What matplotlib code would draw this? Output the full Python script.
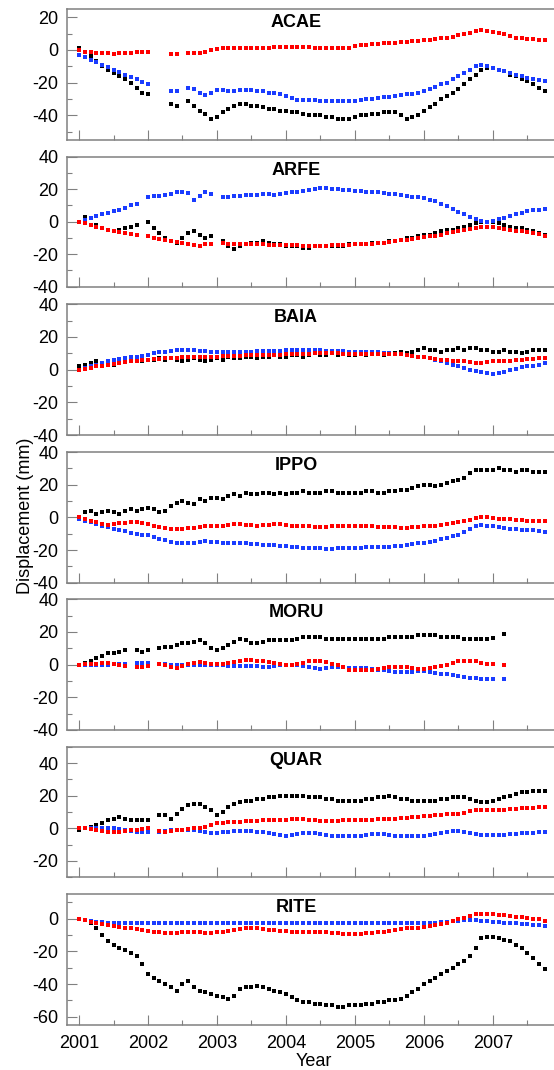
import numpy as np
import matplotlib
matplotlib.use("Agg")
import matplotlib.pyplot as plt
from matplotlib.ticker import MultipleLocator

plt.rcParams['font.family'] = ['Liberation Sans', 'DejaVu Sans']

nan = np.nan

# monthly readings, 2001.00 ... 2007.75 (82 samples), mm
months = 2001 + np.arange(82) / 12.0

stations = ["ACAE", "ARFE", "BAIA", "IPPO", "MORU", "QUAR", "RITE"]

acae_black = [1, -1, -4, -7, -10, -12, -14, -16, -18, -20, -23, -26,
              -27, nan, nan, nan, -33, -34, nan, -31, -34, -37, -39, -42,
              -41, -38, -36, -34, -33, -33, -34, -34, -35, -36, -36, -37,
              -37, -38, -38, -39, -39.5, -40, -40, -41, -41, -42, -42, -42,
              -41, -40, -40, -39, -39, -38, -38, -38, -40, -42, -41, -40,
              -37, -35, -33, -30, -28, -26, -24, -21, -18, -15, -12, -11,
              -11, -12, -13, -15, -16, -18, -19, -21, -23, -25]
acae_blue = [-3, -4.5, -6, -7.5, -9, -10.5, -12, -13.5, -15, -16.5, -18, -19.5,
             -20.5, nan, nan, nan, -25, -25, nan, -23, -24, -26, -27.5, -26,
             -24.5, -24.5, -25, -25, -24.5, -24.5, -24.5, -25, -25, -26, -26.5, -27,
             -28, -29.5, -30.5, -30.5, -30.5, -30.5, -31, -31, -31, -31, -31, -31.2,
             -31, -30.5, -30, -30, -29.5, -29, -28.5, -28, -27.5, -27, -27, -26,
             -25, -24, -22.5, -21, -20, -18, -16, -14, -12, -10, -9.5, -10,
             -11, -12, -13, -14, -15, -16, -17, -18, -18.5, -19]
acae_red = [0, -1, -1.5, -2, -2, -2, -2.5, -2, -2, -2, -1.5, -1.5,
            -1.5, nan, nan, nan, -2.7, -2.7, nan, -2, -2, -2, -1, 0,
            0.5, 1, 1, 1, 1, 1, 1, 1.2, 1.2, 1.2, 1.5, 1.5,
            1.8, 2, 1.8, 1.6, 1.5, 1.4, 1.4, 1.3, 1.2, 1.1, 1, 1,
            2.5, 3, 3.3, 3.5, 3.7, 4, 4.3, 4.5, 4.8, 5, 5.2, 5.5,
            5.8, 6.2, 6.8, 7.2, 7.5, 8, 9, 9.5, 10.5, 11.5, 12, 11.5,
            11, 10.5, 9.5, 8.5, 7.5, 7, 6.5, 6.5, 6.2, 6]

arfe_black = [0, 3, 2, -2, -4, -5, -6, -5, -4, -3, -2, nan,
              0, -4, -7, -10, -12, -13, -10, -7, -6, -8, -10, -9,
              nan, -12, -15, -17, -15, -14, -13, -13, -12, -13, -14, -14,
              -15, -15, -15, -16, -16, -15, -15, -15, -15, -15, -15, -14,
              -14, -14, -14, -13, -13, -13, -12, -12, -11, -10, -10, -9,
              -8, -8, -7, -6, -5, -5, -4, -3, -2, -1, 0, 0,
              0, -1, -2, -3, -4, -4, -5, -6, -7, -8]
arfe_blue = [0, 1, 2, 3.5, 4.5, 5.5, 6.5, 7.5, 8.5, 10, 11, nan,
             15.5, 16, 16, 16.5, 17, 18, 18.5, 17.5, 13.5, 16, 18, 17,
             nan, 15, 15.5, 16, 16, 16.5, 16.5, 16.5, 17, 17, 16.5, 17,
             17.5, 18, 18.5, 19, 19.5, 20, 20.5, 20.5, 20, 20, 19.5, 19.5,
             19, 19, 18.5, 18.5, 18, 17.5, 17, 17, 16.5, 16, 15.5, 15,
             14.5, 13.5, 12.5, 11, 9.5, 8, 6, 4.5, 3, 1.5, 0.5, 0,
             0.5, 1.5, 2.5, 3.5, 4.5, 5.5, 6.5, 7, 7.5, 8]
arfe_red = [0, -1, -2, -3, -4, -5, -5.5, -6.5, -7, -7.5, -8, nan,
            -9, -10, -10.5, -11, -12, -12.5, -13, -14, -14.5, -15, -14, -13.5,
            nan, -13, -13.5, -13.5, -14, -13.5, -14, -14, -14, -14.5, -14.5, -14.5,
            -14.5, -14.5, -14.5, -15, -15, -15, -15, -15, -14.5, -14.5, -14.5, -14.5,
            -14, -14, -14, -13.5, -13, -13, -12.5, -12, -11.5, -11, -10.5, -10,
            -9.5, -9, -8.5, -8, -7, -6.5, -6, -5, -4.5, -4, -3.5, -3,
            -3.5, -4, -4.5, -5, -5.5, -6, -6.5, -7, -7.5, -8.5]

baia_black = [2, 3, 4, 5, 4, 3, 3, 4, 5, 5, 6, 5,
              6, 6, 7, 6, 7, 6, 5, 6, 7, 6, 5, 6,
              7, 6, 8, 7, 7, 8, 8, 7, 8, 8, 9, 8,
              8, 9, 9, 8, 9, 10, 9, 9, 10, 9, 10, 9,
              9, 10, 9, 10, 10, 9, 10, 10, 11, 10, 11, 12,
              13, 12, 12, 11, 12, 12, 13, 12, 13, 13, 12, 12,
              11, 11, 12, 11, 11, 10, 11, 12, 12, 12]
baia_blue = [0, 1, 2, 3, 4, 5, 6, 6.5, 7, 7.5, 8, 8.5,
             9, 10, 10.5, 11, 11.5, 12, 12, 12, 12, 11.5, 11.5, 11,
             11, 11, 11, 11, 11, 11, 11, 11.5, 11.5, 11.5, 11.5, 11.5,
             12, 12, 12, 12, 12, 12, 12, 11.5, 11.5, 11.5, 11.5, 11,
             11, 11, 11, 10.5, 10.5, 10, 10, 9.5, 9.5, 9, 8.5, 8,
             7.5, 7, 6, 5, 4, 3, 2, 1, 0, -1, -1.5, -2,
             -2.5, -2, -1.5, -0.5, 0.5, 1.5, 2, 2.5, 3, 4]
baia_red = [0, 0.5, 1, 2, 2.5, 3, 3.5, 4, 4.5, 5, 5.5, 6,
            6, 6.5, 6.5, 7, 7, 7, 7.5, 7.5, 7.5, 8, 8, 8,
            8, 8.5, 8.5, 8.5, 8.5, 9, 9, 9, 9, 9, 9, 9,
            9.5, 9.5, 9.5, 9.5, 9.5, 10, 10, 10, 10, 10, 9.5, 9.5,
            9.5, 9.5, 9.5, 9.5, 9.5, 9.5, 9.5, 9.5, 9.5, 9, 8.5, 8,
            7.5, 7, 6.5, 6, 6, 5.5, 5, 5, 4.5, 4, 4, 4.5,
            5, 5, 5, 5.5, 6, 6, 6.5, 6.5, 7, 7]

ippo_black = [0, 3, 4, 2, 3, 4, 3, 2, 4, 5, 4, 5,
              6, 5, 3, 4, 7, 9, 10, 9, 8, 11, 10, 12,
              12, 11, 13, 14, 13, 15, 14, 14, 15, 15, 14, 15,
              14, 15, 15, 16, 15, 15, 15, 16, 16, 15, 15, 15,
              15, 15, 16, 16, 15, 15, 16, 16, 17, 17, 18, 19,
              20, 20, 19, 20, 21, 22, 23, 24, 27, 29, 29, 29,
              29, 30, 29, 29, 28, 29, 29, 28, 28, 28]
ippo_blue = [-1, -2, -3, -4, -5, -6, -7, -7.5, -8.5, -9.5, -10, -10.5,
             -11, -12, -13, -14, -15, -15.5, -15.5, -15.5, -15.5, -15, -14.5, -15,
             -15, -15.5, -16, -16, -16, -16, -16.5, -16.5, -17, -17, -17, -17.5,
             -17.5, -18, -18, -18.5, -18.5, -19, -19, -19.5, -19.5, -19, -19, -18.5,
             -18.5, -18.5, -18, -18, -18, -18, -18, -17.5, -17.5, -17, -16.5, -16,
             -15.5, -15, -14.5, -13.5, -12.5, -11.5, -10.5, -9, -7, -5, -4.5, -5,
             -5.5, -6, -6.5, -7, -7, -7.5, -8, -8, -8.5, -9]
ippo_red = [0, -1, -2, -3, -4, -4.5, -4, -3.5, -3.5, -3, -3, -3.5,
            -4, -5, -6, -6.5, -7, -7, -7, -6.5, -6.5, -6, -5.5, -5,
            -5, -5, -4.5, -4, -4, -4.5, -4.5, -5, -4.5, -4.5, -4, -4,
            -4.5, -5, -5, -5.5, -5.5, -6, -6, -6, -5.5, -5.5, -5, -5,
            -5, -5, -5.5, -5.5, -6, -6, -6, -6, -6.5, -6.5, -6, -6,
            -5.5, -5, -5, -4.5, -4, -3.5, -3, -2.5, -1.5, -0.5, 0, 0,
            -0.5, -1, -1, -1, -1.5, -1.5, -2, -2, -2, -2]

moru_black = [0, 1, 2.5, 4, 5.5, 7, 7, 8, 9, nan, 9, 8,
              9, nan, 10, 11, 11, 12, 13, 13, 14, 15, 13, 10,
              9, 10, 12, 14, 16, 15, 13, 13, 14, 15, 15, 15,
              15, 15, 16, 17, 17, 17, 17, 16, 16, 16, 16, 16,
              16, 16, 16, 16, 16, 16, 17, 17, 17, 17, 17, 18,
              18, 18, 18, 17, 17, 17, 17, 16, 16, 16, 16, 16,
              16.5, nan, 18.5, nan, nan, nan, nan, nan, nan, nan]
moru_blue = [0, 0, 0, 0, 0, 0, 0.5, 0.5, 0.5, nan, 1, 1,
             1, nan, 0.5, 0.5, 0, 0, 0, 0, 0, 0, -0.5, -0.5,
             -0.5, -0.5, -1, -1, -1, -1, -1, -1, -1.5, -1.5, -1, -0.5,
             -0.5, -0.5, -0.5, -1, -1.5, -2, -2.5, -2, -1.5, -1.5, -1.5, -2,
             -2, -2, -2, -2.5, -3, -3.5, -4, -4.5, -4.5, -4.5, -4.5, -4,
             -4, -4.5, -5, -5.5, -6, -6.5, -7, -7.5, -8, -8, -8.5, -8.5,
             -8.5, nan, -9, nan, nan, nan, nan, nan, nan, nan]
moru_red = [0, 0.5, 0.5, 0.5, 1, 1, 0.5, 0, -1, nan, -1.5, -1.5,
            -1, nan, 0.5, 0, -1.5, -2, -1, 0.5, 1, 1.5, 1, 0.5,
            0.5, 0.5, 1, 1.5, 2, 3, 3, 2.5, 2, 1.5, 1, 0.5,
            0, 0, 0.5, 1, 2, 2.5, 2, 1.5, 0.5, 0, -1.5, -3,
            -3.5, -3.5, -3.5, -3, -2.5, -2, -1.5, -1.5, -1.5, -1.5, -2, -2.5,
            -2.5, -2, -1.5, -1, 0, 1, 2, 2.5, 2.5, 2, 1, 0.5,
            0.5, nan, 0, nan, nan, nan, nan, nan, nan, nan]

quar_black = [-1, 0, 1, 2, 3, 5, 6, 7, 6, 5, 5, 5,
              5, nan, 8, 8, 6, 9, 12, 14, 15, 15, 13, 11,
              8, 10, 13, 15, 16, 17, 17, 18, 18, 19, 19, 20,
              20, 20, 20, 20, 19, 19, 19, 18, 18, 17, 17, 17,
              17, 17, 18, 18, 19, 19, 20, 19, 18, 18, 17, 17,
              17, 17, 17, 18, 18, 19, 19, 19, 18, 17, 16, 16,
              17, 18, 19, 20, 21, 22, 22, 23, 23, 23]
quar_blue = [0, 0, 0.5, 0.5, 0, 0, 0, -0.5, -1, -1.5, -2, -2,
             -2, nan, -2, -1.5, -1, -1, -1, -1, -1, -1.5, -2.5, -3,
             -3, -2.5, -2, -1.5, -1.5, -1.5, -1.5, -2, -2.5, -3, -3.5, -4,
             -4.5, -4, -3.5, -3, -3, -3, -3.5, -4, -4.5, -5, -5, -5,
             -5, -4.5, -4, -3.5, -3.5, -3.5, -4, -4.5, -5, -5, -5, -5,
             -4.5, -4, -3.5, -3, -2, -1.5, -1.5, -2, -3, -3.5, -4, -4,
             -4, -4, -4, -3.5, -3.5, -3, -3, -3, -2.5, -2.5]
quar_red = [0, 0, -0.5, -1, -1.5, -2, -2, -2, -1.5, -1, -1, -0.5,
            0, nan, -1.5, -2, -1.5, -1, -1, -0.5, 0, 0.5, 1, 2,
            3, 3.5, 4, 4, 4, 4.5, 4.5, 4.5, 5, 5, 5, 5,
            5, 5.5, 5.5, 5.5, 5, 5, 4.5, 4.5, 4.5, 4.5, 5, 5,
            5, 5, 5, 5, 5.5, 5.5, 6, 6, 6.5, 6.5, 7, 7,
            7.5, 7.5, 8, 8, 8.5, 8.5, 9, 9.5, 10.5, 11.5, 11.5, 11.5,
            11.5, 11.5, 11.5, 12, 12, 12.5, 12.5, 12.5, 13, 13]

rite_black = [0, -1, -3, -6, -10, -14, -16, -18, -19, -21, -23, -28,
              -34, -36, -38, -40, -42, -44, -40, -38, -42, -44, -45, -46,
              -47, -48, -49, -47, -43, -42, -42, -41, -42, -43, -44, -45,
              -46, -48, -50, -51, -51, -52, -52, -53, -53, -54, -54, -53,
              -53, -53, -52, -52, -51, -51, -50, -50, -49, -47, -45, -43,
              -40, -38, -36, -34, -32, -30, -28, -26, -23, -18, -12, -11,
              -11, -12, -13, -14, -16, -18, -21, -24, -28, -31]
rite_blue = [0, -1, -1.5, -2, -2, -2.5, -2.5, -2.5, -2.5, -3, -3, -3,
             -3, -3, -3, -3, -3, -3, -3, -3, -2.5, -2.5, -2.5, -2.5,
             -2.5, -2.5, -2.5, -2.5, -2.5, -2.5, -2.5, -2.5, -2.5, -2.5, -3, -3,
             -3, -3, -3, -3, -3, -3, -3, -3, -3, -3, -3, -3,
             -3, -3, -3, -3, -3, -3, -3, -3, -3, -3, -3, -2.5,
             -2.5, -2.5, -2.5, -2, -2, -1.5, -1.5, -1, -1, -1, -1.5, -1.5,
             -2, -2, -2.5, -3, -3, -3.5, -3.5, -4, -4, -4.5]
rite_red = [0, -1, -2, -3, -3.5, -4, -4.5, -5, -5.5, -6, -6.5, -7,
            -7.5, -8, -8.5, -9, -9, -9, -8.5, -8.5, -8.5, -8.5, -9, -9,
            -8.5, -8, -7.5, -7, -6.5, -6, -6, -6, -6.5, -7, -7, -7.5,
            -7.5, -8, -8, -8, -8, -8, -8.5, -8.5, -9, -9, -9.5, -9.5,
            -9.5, -9.5, -9, -9, -8.5, -8, -7.5, -7, -6.5, -6, -6, -5.5,
            -5, -4.5, -4, -3.5, -2.5, -1.5, -0.5, 0.5, 1.5, 2.5, 3, 3,
            2.5, 2, 2, 1.5, 1, 1, 0.5, 0, -0.5, -1.5]

blacks = [acae_black, arfe_black, baia_black, ippo_black, moru_black, quar_black, rite_black]
blues = [acae_blue, arfe_blue, baia_blue, ippo_blue, moru_blue, quar_blue, rite_blue]
reds = [acae_red, arfe_red, baia_red, ippo_red, moru_red, quar_red, rite_red]

ylims = [(-55, 25), (-40, 40), (-40, 40), (-40, 40), (-40, 40), (-30, 50), (-65, 15)]

# panel boxes in pixels (top, bottom) on a 554 x 1070 canvas
boxes = [(9, 140), (156.7, 286.7), (304.3, 435), (452, 582.7),
         (599.3, 730), (746.7, 877.3), (894, 1025)]

W, H = 554.0, 1070.0
fig = plt.figure(figsize=(W / 100, H / 100), dpi=100)

grey = '#808080'
for i, name in enumerate(stations):
    top, bot = boxes[i]
    ax = fig.add_axes([67 / W, 1 - bot / H, (557 - 67) / W, (bot - top) / H])
    ax.plot(months, blacks[i], 's', ms=2.4, mew=0, color='black')
    ax.plot(months, blues[i], 's', ms=2.4, mew=0, color='#1a3cff')
    ax.plot(months, reds[i], 's', ms=2.4, mew=0, color='#ff0000')

    ax.set_xlim(2000.826, 2007.928)
    ax.set_ylim(*ylims[i])
    ax.xaxis.set_major_locator(MultipleLocator(1))
    ax.xaxis.set_minor_locator(MultipleLocator(0.5))
    ax.yaxis.set_major_locator(MultipleLocator(20))
    ax.yaxis.set_minor_locator(MultipleLocator(10))
    ax.tick_params(which='both', direction='in', color=grey, width=0.8,
                   top=False, right=False, labelsize=13, pad=6)
    ax.tick_params(axis='x', pad=7)
    ax.tick_params(which='major', length=7)
    ax.tick_params(which='minor', length=3.6)
    for s in ax.spines.values():
        s.set_color(grey)
        s.set_linewidth(1.1)
    ax.set_yticklabels([f"{int(v)}" for v in ax.get_yticks()])
    if i < len(stations) - 1:
        ax.tick_params(axis='x', labelbottom=False)
    else:
        ax.set_xticklabels([f"{int(v)}" for v in ax.get_xticks()])

    ax.annotate(name, xy=(296 / W, 1), xycoords=('figure fraction', 'axes fraction'),
                xytext=(0, -18), textcoords='offset pixels',
                ha='center', va='baseline', fontsize=13, fontweight='bold')

fig.text(25.5 / W, 1 - 516 / H, "Displacement (mm)", rotation=90,
         ha='center', va='center', fontsize=13)
fig.text(314 / W, 1 - 1052.5 / H, "Year", ha='center', va='top', fontsize=13)

fig.savefig("out.png", dpi=100)
